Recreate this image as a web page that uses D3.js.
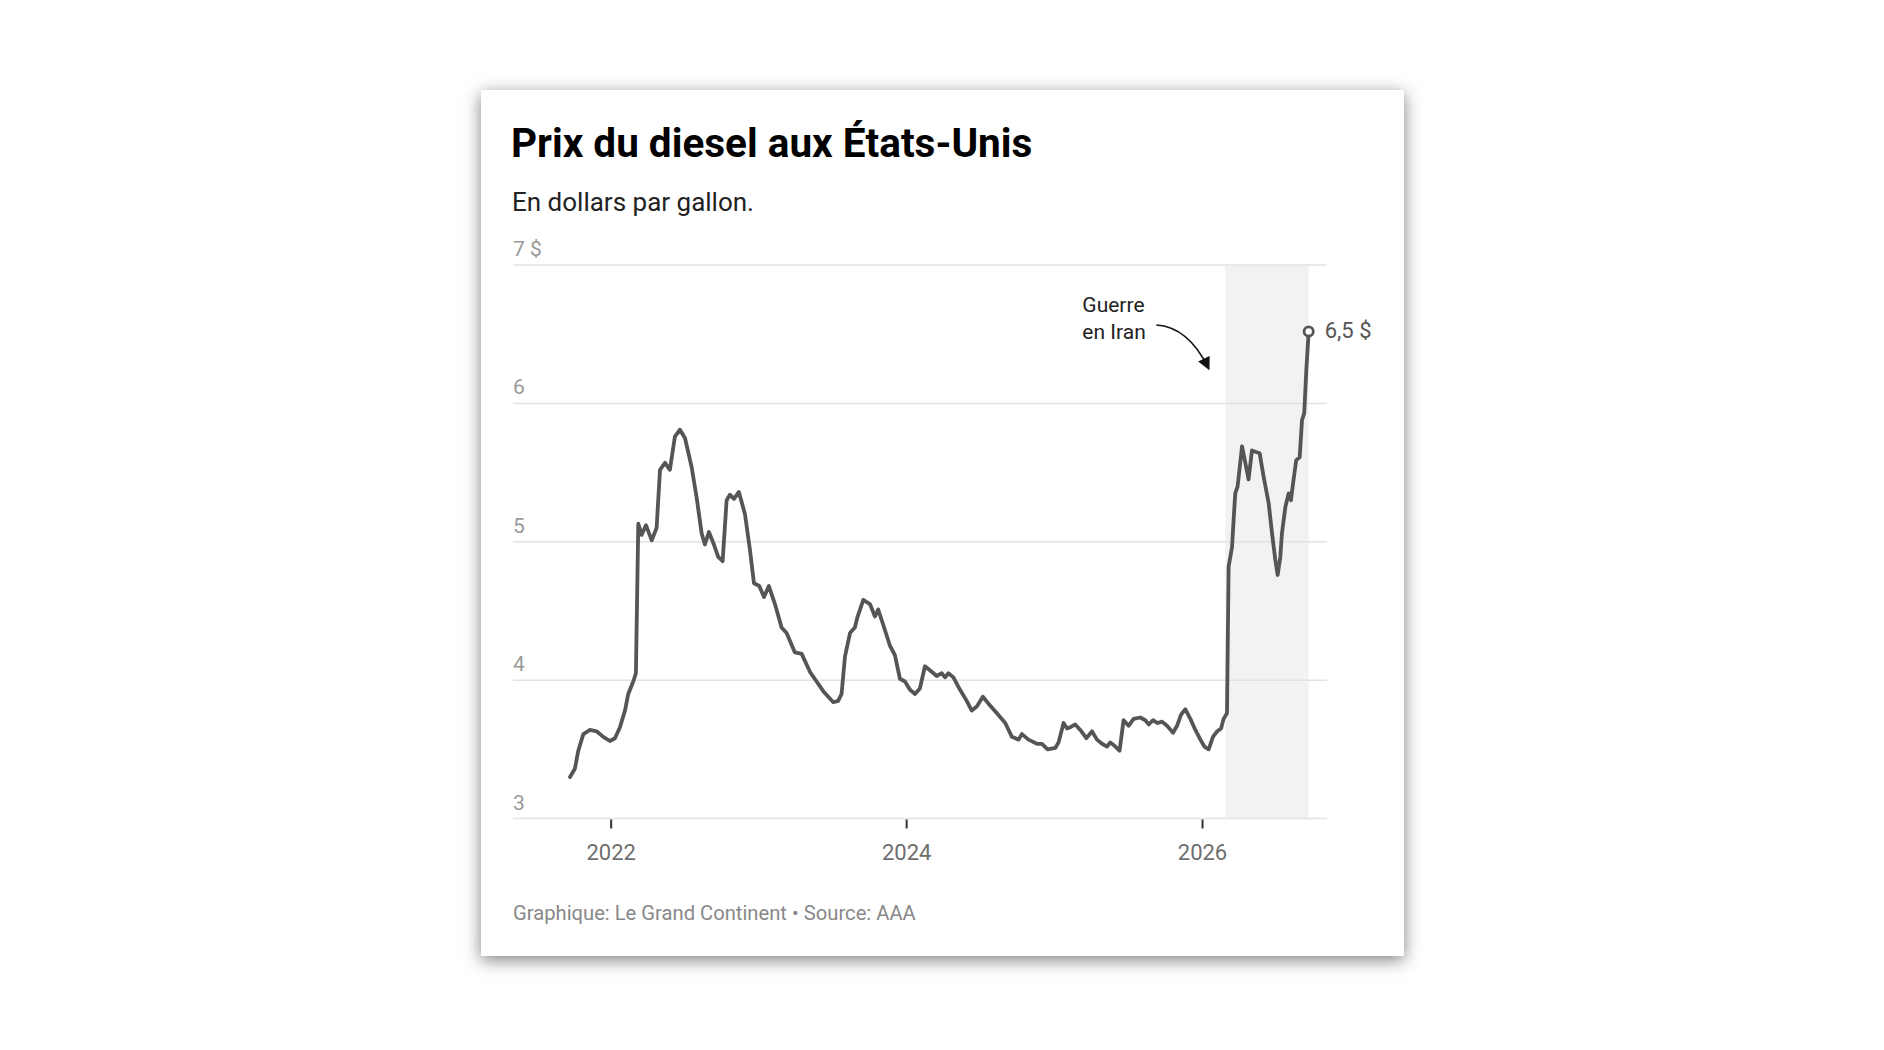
<!DOCTYPE html>
<html>
<head>
<meta charset="utf-8">
<script src="https://cdn.jsdelivr.net/npm/d3@7"></script>
<style>
  html, body { margin: 0; padding: 0; background: #fff; }
  body { width: 1884px; height: 1050px; position: relative; font-family: Roboto, "Noto Sans", sans-serif; }
  .card {
    position: absolute; left: 481px; top: 90px; width: 923px; height: 866px;
    background: #fff; box-shadow: 0 4px 16px rgba(0,0,0,0.5);
  }
</style>
</head>
<body>
<div class="card" id="card"></div>
<script>
// Diesel price, dollars per gallon; dates read as decimal years
const years = [
  2021.725, 2021.758, 2021.781, 2021.815, 2021.860, 2021.905, 2021.950, 2021.995,
  2022.029, 2022.063, 2022.097, 2022.119, 2022.153, 2022.171, 2022.187, 2022.210,
  2022.239, 2022.278, 2022.311, 2022.334, 2022.368, 2022.401, 2022.435, 2022.469,
  2022.503, 2022.548, 2022.582, 2022.616, 2022.638, 2022.665, 2022.699, 2022.728,
  2022.758, 2022.785, 2022.807, 2022.835, 2022.868, 2022.909, 2022.943, 2022.970,
  2023.006, 2023.038, 2023.071, 2023.112, 2023.157, 2023.191, 2023.247, 2023.293,
  2023.349, 2023.394, 2023.439, 2023.473, 2023.507, 2023.540, 2023.563, 2023.586,
  2023.620, 2023.653, 2023.669, 2023.710, 2023.755, 2023.789, 2023.811, 2023.845,
  2023.890, 2023.924, 2023.958, 2023.992, 2024.026, 2024.060, 2024.093, 2024.127,
  2024.173, 2024.206, 2024.240, 2024.263, 2024.285, 2024.319, 2024.364, 2024.409,
  2024.443, 2024.477, 2024.518, 2024.556, 2024.613, 2024.669, 2024.714, 2024.759,
  2024.782, 2024.826, 2024.883, 2024.917, 2024.955, 2025.007, 2025.029, 2025.063,
  2025.086, 2025.109, 2025.142, 2025.176, 2025.217, 2025.255, 2025.289, 2025.323,
  2025.357, 2025.379, 2025.413, 2025.442, 2025.469, 2025.503, 2025.537, 2025.582,
  2025.616, 2025.639, 2025.668, 2025.700, 2025.729, 2025.763, 2025.804, 2025.831,
  2025.858, 2025.887, 2025.921, 2025.955, 2025.989, 2026.016, 2026.045, 2026.074,
  2026.102, 2026.129, 2026.146, 2026.169, 2026.180, 2026.203, 2026.214, 2026.225,
  2026.241, 2026.271, 2026.293, 2026.315, 2026.338, 2026.361, 2026.390, 2026.417,
  2026.451, 2026.474, 2026.496, 2026.512, 2026.530, 2026.541, 2026.564, 2026.586,
  2026.602, 2026.616, 2026.638, 2026.661, 2026.677, 2026.692, 2026.706, 2026.722
];
const prices = [
  3.30, 3.36, 3.49, 3.61, 3.64, 3.63, 3.59, 3.56,
  3.58, 3.66, 3.78, 3.90, 3.99, 4.05, 5.13, 5.05,
  5.12, 5.01, 5.10, 5.52, 5.57, 5.52, 5.76, 5.81,
  5.75, 5.54, 5.32, 5.06, 4.98, 5.07, 4.98, 4.89,
  4.86, 5.30, 5.34, 5.31, 5.36, 5.20, 4.94, 4.70,
  4.68, 4.60, 4.68, 4.55, 4.38, 4.34, 4.20, 4.19,
  4.06, 3.99, 3.92, 3.88, 3.84, 3.85, 3.90, 4.17,
  4.34, 4.38, 4.45, 4.58, 4.55, 4.46, 4.51, 4.40,
  4.25, 4.18, 4.01, 3.99, 3.93, 3.90, 3.94, 4.10,
  4.06, 4.03, 4.05, 4.02, 4.05, 4.02, 3.93, 3.85,
  3.78, 3.81, 3.88, 3.83, 3.76, 3.69, 3.59, 3.57,
  3.61, 3.57, 3.54, 3.54, 3.50, 3.51, 3.55, 3.69,
  3.65, 3.66, 3.68, 3.64, 3.58, 3.63, 3.57, 3.54,
  3.52, 3.55, 3.52, 3.49, 3.71, 3.67, 3.72, 3.73,
  3.71, 3.68, 3.71, 3.69, 3.70, 3.67, 3.62, 3.67,
  3.75, 3.79, 3.72, 3.64, 3.57, 3.52, 3.50, 3.59,
  3.63, 3.65, 3.72, 3.76, 4.82, 4.96, 5.16, 5.35,
  5.40, 5.69, 5.57, 5.45, 5.66, 5.65, 5.64, 5.47,
  5.28, 5.06, 4.87, 4.76, 4.89, 5.06, 5.25, 5.35,
  5.30, 5.42, 5.59, 5.61, 5.88, 5.93, 6.24, 6.52
];
const yTicks = [3, 4, 5, 6, 7];
const xDomainYears = [2021.339, 2026.846];
const warStartYear = 2026.158;
const titleText = "Prix du diesel aux États-Unis";
const subtitleText = "En dollars par gallon.";
const noteLines = ["Guerre", "en Iran"];
const sourceText = "Graphique: Le Grand Continent • Source: AAA";

// decimal year -> UTC date
function toDate(t) {
  const yr = Math.floor(t);
  const a = Date.UTC(yr, 0, 1), b = Date.UTC(yr + 1, 0, 1);
  return new Date(a + (t - yr) * (b - a));
}

const data = years.map((t, i) => ({date: toDate(t), value: prices[i]}));

const W = 923, H = 866;
const plotLeft = 32, plotRight = 846, plotTop = 175, plotBottom = 728.5;

const svg = d3.select("#card").append("svg")
  .attr("width", W).attr("height", H)
  .style("font-family", "Roboto, 'Noto Sans', sans-serif");

// Title and subtitle
svg.append("text").attr("x", plotLeft - 2).attr("y", 67)
  .attr("font-size", 40.5).attr("font-weight", 700).attr("fill", "#000")
  .text(titleText);
svg.append("text").attr("x", plotLeft - 1).attr("y", 121)
  .attr("font-size", 26).attr("fill", "#222")
  .text(subtitleText);

const x = d3.scaleUtc().domain(xDomainYears.map(toDate)).range([plotLeft, plotRight]);
const y = d3.scaleLinear().domain([3, 7]).range([plotBottom, plotTop]);

// shaded war period
const lastPoint = data[data.length - 1];
svg.append("rect")
  .attr("x", x(toDate(warStartYear)))
  .attr("y", y(7))
  .attr("width", x(lastPoint.date) - x(toDate(warStartYear)))
  .attr("height", y(3) - y(7))
  .attr("fill", "#f2f2f2");

// gridlines + y labels
const grid = svg.append("g");
grid.selectAll("line").data(yTicks).join("line")
  .attr("x1", plotLeft).attr("x2", plotRight)
  .attr("y1", d => y(d)).attr("y2", d => y(d))
  .attr("stroke", "#e2e2e2").attr("stroke-width", 1.5);
grid.selectAll("text").data(yTicks).join("text")
  .attr("x", plotLeft).attr("y", d => y(d) - 9)
  .attr("font-size", 21).attr("fill", "#999")
  .text(d => d === 7 ? "7 $" : d);

// x axis
const xAxis = svg.append("g")
  .attr("transform", `translate(0,${y(3) + 1})`)
  .call(d3.axisBottom(x).ticks(d3.utcYear.every(2)).tickFormat(d3.utcFormat("%Y")).tickSize(9));
xAxis.select(".domain").remove();
xAxis.selectAll(".tick line").attr("stroke", "#333").attr("stroke-width", 2);
xAxis.selectAll(".tick text")
  .attr("font-size", 22).attr("font-family", "Roboto, 'Noto Sans', sans-serif")
  .attr("fill", "#6e6e6e").attr("dy", 0).attr("y", 40);

// price line
const line = d3.line().x(d => x(d.date)).y(d => y(d.value));
svg.append("path").datum(data)
  .attr("d", line)
  .attr("fill", "none").attr("stroke", "#555")
  .attr("stroke-width", 3.8).attr("stroke-linejoin", "round").attr("stroke-linecap", "round");

// end dot + label
svg.append("circle")
  .attr("cx", x(lastPoint.date)).attr("cy", y(lastPoint.value)).attr("r", 4.6)
  .attr("fill", "#fff").attr("stroke", "#555").attr("stroke-width", 2.8);
svg.append("text")
  .attr("x", x(lastPoint.date) + 16).attr("y", y(lastPoint.value) + 7)
  .attr("font-size", 22).attr("fill", "#555")
  .text(d3.format(".1f")(lastPoint.value).replace(".", ",") + " $");

// annotation
const wx = x(toDate(warStartYear));
const note = svg.append("text").attr("font-size", 21).attr("fill", "#222");
noteLines.forEach((t, i) => {
  note.append("tspan").attr("x", wx - 143).attr("y", y(7) + 47 + i * 26.5).text(t);
});
svg.append("defs").append("marker")
  .attr("id", "arrow").attr("viewBox", "0 0 10 10")
  .attr("refX", 8).attr("refY", 5)
  .attr("markerWidth", 9).attr("markerHeight", 8)
  .attr("markerUnits", "strokeWidth")
  .attr("orient", "auto")
  .append("path").attr("d", "M0,0 L10,5 L0,10 z").attr("fill", "#111");
const ax0 = wx - 69, ay0 = y(7) + 60, ax1 = wx - 17, ay1 = y(7) + 103;
svg.append("path")
  .attr("d", `M${ax0},${ay0} Q${ax0 + 32},${ay0 + 2} ${ax1},${ay1}`)
  .attr("fill", "none").attr("stroke", "#111").attr("stroke-width", 1.6)
  .attr("marker-end", "url(#arrow)");

// source
svg.append("text").attr("x", plotLeft).attr("y", 830)
  .attr("font-size", 20.2).attr("fill", "#888")
  .text(sourceText);
</script>
</body>
</html>
